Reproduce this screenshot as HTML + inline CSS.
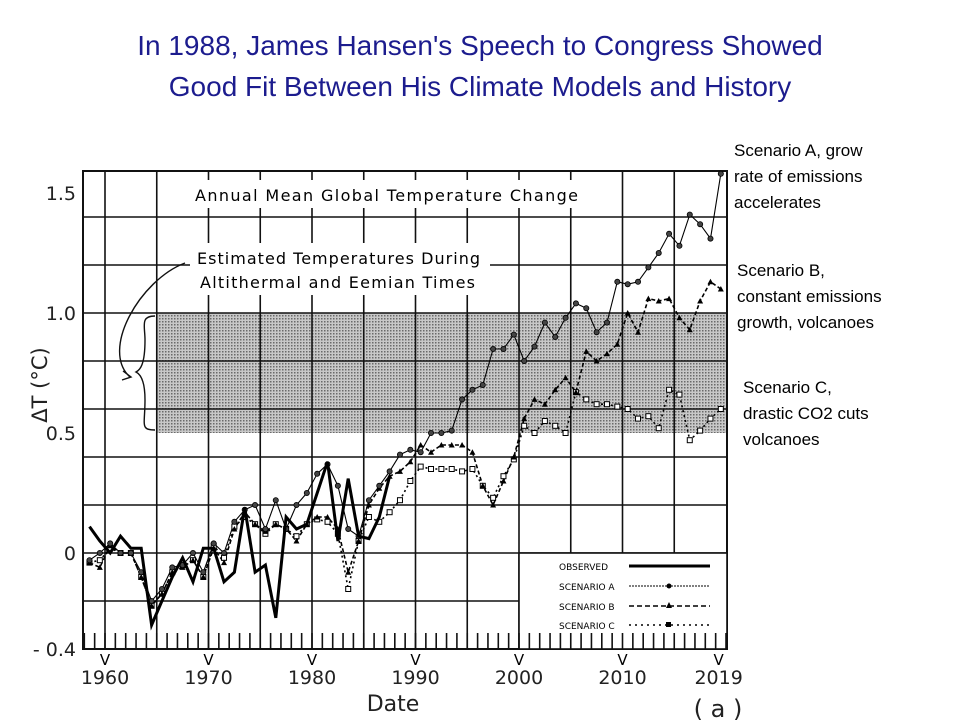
<!DOCTYPE html>
<html><head><meta charset="utf-8"><style>
html,body{margin:0;padding:0;background:#fff;}
body{width:960px;height:720px;overflow:hidden;position:relative;font-family:"Liberation Sans",sans-serif;}
.t{position:absolute;left:0;width:960px;text-align:center;color:#1c1c8e;font-size:28px;}
.ann{position:absolute;left:734px;font-size:17px;line-height:26px;color:#000;}
</style></head><body>
<div class="t" style="top:30px">In 1988, James Hansen's Speech to Congress Showed</div>
<div class="t" style="top:71px">Good Fit Between His Climate Models and History</div>
<div class="ann" style="top:138px">Scenario A, grow<br>rate of emissions<br>accelerates</div>
<div class="ann" style="top:258px;left:737px">Scenario B,<br>constant emissions<br>growth, volcanoes</div>
<div class="ann" style="top:375px;left:743px">Scenario C,<br>drastic CO2 cuts<br>volcanoes</div>
<svg id="s" width="960" height="720" style="position:absolute;left:0;top:0" xmlns="http://www.w3.org/2000/svg">
<defs><pattern id="dots" width="3" height="3" patternUnits="userSpaceOnUse"><rect width="3" height="3" fill="#c8c8c8"/><rect width="1.5" height="1.5" fill="#6a6a6a"/></pattern></defs>
</svg>
<script>
var s=document.getElementById('s'),h='';
function X(y){return 105+(y-1960)*10.35;}
function Y(v){return 553-v*240;}
h+='<rect x="157" y="'+Y(1)+'" width="570" height="120" fill="url(#dots)"/>';
[1.4,1.2,1.0,0.8,0.6,0.4,0.2,0,-0.2].forEach(function(v){h+='<line x1="83" x2="727" y1="'+Y(v)+'" y2="'+Y(v)+'" stroke="#111" stroke-width="1.6"/>';});
[1960,1965,1970,1975,1980,1985,1990,1995,2000,2005,2010,2015].forEach(function(y){h+='<line x1="'+X(y)+'" x2="'+X(y)+'" y1="171" y2="649" stroke="#111" stroke-width="1.6"/>';});
h+='<rect x="83" y="171" width="644" height="478" fill="none" stroke="#111" stroke-width="2"/>';
h+='<rect x="188" y="180" width="400" height="28" fill="#fff"/>';
h+='<text x="195" y="201" font-size="16" font-family="DejaVu Sans,sans-serif" textLength="383" lengthAdjust="spacing">Annual  Mean  Global  Temperature  Change</text>';
h+='<rect x="190" y="243" width="300" height="52" fill="#fff"/>';
h+='<text x="197" y="264" font-size="16" font-family="DejaVu Sans,sans-serif" textLength="283" lengthAdjust="spacing">Estimated  Temperatures  During</text>';
h+='<text x="200" y="288" font-size="16" font-family="DejaVu Sans,sans-serif" textLength="275" lengthAdjust="spacing">Altithermal  and  Eemian  Times</text>';
h+='<path d="M185,263 C140,280 100,350 130,377 M123,371 L131,377 L122,380" fill="none" stroke="#111" stroke-width="1.4"/>';
h+='<path d="M155,316 C140,316 145,326 145,340 C145,365 140,370 136,372 C140,374 145,380 145,400 C145,425 140,430 155,430" fill="none" stroke="#111" stroke-width="1.4"/>';
h+='<rect x="519" y="553" width="208" height="96" fill="#fff" stroke="#111" stroke-width="1.6"/>';
var L=[['OBSERVED',566],['SCENARIO  A',586],['SCENARIO  B',606],['SCENARIO  C',625]];
L.forEach(function(l){h+='<text x="559" y="'+(l[1]+4)+'" font-size="9" font-family="DejaVu Sans,sans-serif">'+l[0]+'</text>';});
h+='<line x1="629" x2="710" y1="566" y2="566" stroke="#000" stroke-width="3"/>';
h+='<line x1="629" x2="710" y1="586" y2="586" stroke="#000" stroke-width="1" stroke-dasharray="2 1"/><circle cx="669" cy="586" r="2.5"/>';
h+='<line x1="629" x2="710" y1="606" y2="606" stroke="#000" stroke-width="1.6" stroke-dasharray="5 3"/><path d="M666,608 L669,602 L672,608Z"/>';
h+='<line x1="629" x2="710" y1="625" y2="625" stroke="#000" stroke-width="1.6" stroke-dasharray="2 4"/><rect x="666" y="622" width="5" height="5"/>';
for(var y=1958;y<=2020;y++){h+='<line x1="'+X(y)+'" x2="'+X(y)+'" y1="633" y2="649" stroke="#111" stroke-width="1.6"/>';}
[['1.5',1.5],['1.0',1.0],['0.5',0.5],['0',0],['- 0.4',-0.4]].forEach(function(a){h+='<text x="76" y="'+(Y(a[1])+7)+'" text-anchor="end" font-size="19" font-family="DejaVu Sans,sans-serif" fill="#222">'+a[0]+'</text>';});
[1960,1970,1980,1990,2000,2010,2019].forEach(function(y){var x=X(y)+(y==2019?3:0);h+='<text x="'+x+'" y="665" text-anchor="middle" font-size="15" font-family="DejaVu Sans,sans-serif">V</text><text x="'+x+'" y="684" text-anchor="middle" font-size="19" font-family="DejaVu Sans,sans-serif" fill="#222">'+y+'</text>';});
h+='<text x="393" y="711" text-anchor="middle" font-size="22" font-family="DejaVu Sans,sans-serif" fill="#222">Date</text>';
h+='<text x="718" y="717" text-anchor="middle" font-size="24" font-family="DejaVu Sans,sans-serif" fill="#222">( a )</text>';
h+='<text transform="translate(47,385) rotate(-90)" text-anchor="middle" font-size="21" font-family="DejaVu Sans,sans-serif" fill="#222">ΔT (°C)</text>';
function pts(start,arr){return arr.map(function(v,i){return [X(start+i+0.5),Y(v)];});}
function poly(p,st){return '<polyline points="'+p.map(function(q){return q[0].toFixed(1)+','+q[1].toFixed(1);}).join(' ')+'" fill="none" stroke="#000" '+st+'/>';}
var A=[-0.03,0.0,0.04,0.0,0.0,-0.08,-0.2,-0.15,-0.06,-0.05,0.0,-0.08,0.04,0.0,0.13,0.18,0.2,0.1,0.22,0.1,0.2,0.25,0.33,0.37,0.28,0.1,0.07,0.22,0.28,0.34,0.41,0.43,0.42,0.5,0.5,0.51,0.64,0.68,0.7,0.85,0.85,0.91,0.8,0.86,0.96,0.9,0.98,1.04,1.02,0.92,0.96,1.13,1.12,1.13,1.19,1.25,1.33,1.28,1.41,1.37,1.31,1.58];
var B=[-0.04,-0.06,0.03,0.0,0.0,-0.1,-0.22,-0.17,-0.08,-0.06,-0.03,-0.1,0.02,-0.04,0.1,0.17,0.12,0.09,0.12,0.1,0.05,0.12,0.15,0.15,0.1,-0.08,0.05,0.2,0.27,0.32,0.34,0.38,0.45,0.42,0.45,0.45,0.45,0.42,0.28,0.2,0.3,0.4,0.56,0.64,0.62,0.68,0.73,0.67,0.84,0.8,0.83,0.87,1.0,0.92,1.06,1.05,1.06,0.98,0.93,1.05,1.13,1.1];
var C=[-0.04,-0.03,0.02,0.0,0.0,-0.1,-0.22,-0.17,-0.08,-0.05,-0.03,-0.1,0.03,-0.02,0.11,0.15,0.12,0.08,0.12,0.1,0.07,0.12,0.14,0.13,0.08,-0.15,0.05,0.15,0.13,0.17,0.22,0.3,0.36,0.35,0.35,0.35,0.34,0.35,0.28,0.23,0.32,0.39,0.53,0.5,0.55,0.53,0.5,0.67,0.64,0.62,0.62,0.61,0.6,0.56,0.57,0.52,0.68,0.66,0.47,0.51,0.56,0.6];
var O=[0.11,0.05,0.0,0.07,0.02,0.02,-0.3,-0.2,-0.1,-0.02,-0.12,0.02,0.02,-0.12,-0.08,0.19,-0.08,-0.05,-0.27,0.15,0.1,0.12,0.25,0.38,0.05,0.31,0.07,0.06,0.15,0.32];
var pa=pts(1958,A),pb=pts(1958,B),pc=pts(1958,C);
h+=poly(pc,'stroke-width="1.6" stroke-dasharray="2 3"');
h+=poly(pb,'stroke-width="1.6" stroke-dasharray="4 2.5"');
h+=poly(pa,'stroke-width="1.1"');
pc.forEach(function(q){h+='<rect x="'+(q[0]-2.5)+'" y="'+(q[1]-2.5)+'" width="5" height="5" fill="#fff" stroke="#000" stroke-width="1"/>';});
pb.forEach(function(q){h+='<path d="M'+(q[0]-3)+','+(q[1]+2.5)+' L'+q[0]+','+(q[1]-3)+' L'+(q[0]+3)+','+(q[1]+2.5)+'Z" fill="#000"/>';});
pa.forEach(function(q){h+='<circle cx="'+q[0]+'" cy="'+q[1]+'" r="2.6" fill="#444" stroke="#000" stroke-width="0.8"/>';});
h+=poly(pts(1958,O),'stroke-width="3" stroke-linejoin="miter"');
s.innerHTML+=h;
</script>
</body></html>
